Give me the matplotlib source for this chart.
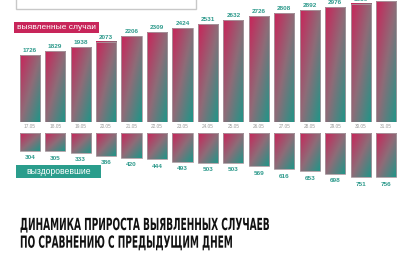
import numpy as np
import matplotlib
matplotlib.use("Agg")
import matplotlib.pyplot as plt
from matplotlib.patches import Rectangle
from matplotlib.colors import LinearSegmentedColormap
from matplotlib.patheffects import AbstractPathEffect
from matplotlib.transforms import Affine2D

# ---- data ----
dates = ["17.05", "18.05", "19.05", "20.05", "21.05", "22.05", "23.05", "24.05",
         "25.05", "26.05", "27.05", "28.05", "29.05", "30.05", "31.05"]
detected = [1726, 1829, 1938, 2073, 2206, 2309, 2424, 2531, 2632, 2726, 2808,
            2892, 2976, 3059, 3130]
recovered = [304, 305, 333, 386, 420, 444, 493, 503, 503, 569, 616, 653, 698,
             751, 756]
label_detected = "выявленные случаи"
label_recovered = "выздоровевшие"
title_lines = ["ДИНАМИКА ПРИРОСТА ВЫЯВЛЕННЫХ СЛУЧАЕВ",
               "ПО СРАВНЕНИЮ С ПРЕДЫДУЩИМ ДНЕМ"]

# ---- style ----
W, H = 414, 256
CRIMSON = "#C8255A"
TEAL = "#1E9688"
NUMCOL = "#2E9A8C"
cmap = LinearSegmentedColormap.from_list(
    "grad", [CRIMSON, "#8E6C78", TEAL])

fig = plt.figure(figsize=(W / 100, H / 100), dpi=100)
fig.patch.set_facecolor("white")


def fx(px):
    return px / W


def fy(py):
    return 1 - py / H


n = len(dates)
xl, xr = 16.97, 398.93
bw = 0.79

# gradient template (rows top->bottom, cols left->right)
rr, cc = np.mgrid[0:60, 0:20]
grad = 0.5 * cc / 19 + 0.5 * rr / 59

# upper axes
base_up = 121.7
scale_up = 0.03864  # px per case
ax1 = fig.add_axes([fx(xl), fy(base_up), fx(xr) - fx(xl), base_up / H])
ax1.set_axis_off()
for i, v in enumerate(detected):
    ax1.imshow(grad, cmap=cmap, vmin=0, vmax=1, origin="upper",
               extent=(i - bw / 2, i + bw / 2, 0, v), aspect="auto",
               interpolation="bilinear", zorder=2)
    ax1.add_patch(Rectangle((i - bw / 2, 0), bw, v, fill=False,
                            edgecolor="#a89aa0", lw=0.6, zorder=3))
    ax1.annotate(str(v), (i, v), xytext=(0, 3), textcoords="offset pixels",
                 ha="center", va="baseline", fontsize=4.6, fontweight="bold",
                 color=NUMCOL, family="Liberation Sans", annotation_clip=False)
    ax1.annotate(dates[i], (i, 0), xytext=(0, -6), textcoords="offset pixels",
                 ha="center", va="baseline", fontsize=3.4, color="#9a9a9a",
                 family="Liberation Sans", annotation_clip=False)
ax1.set_xlim(-0.5, n - 0.5)
ax1.set_ylim(0, base_up / scale_up)

# lower axes
top_lo = 133.3
scale_lo = 0.0582
ax2 = fig.add_axes([fx(xl), 0, fx(xr) - fx(xl), (H - top_lo) / H])
ax2.set_axis_off()
for i, v in enumerate(recovered):
    ax2.imshow(grad, cmap=cmap, vmin=0, vmax=1, origin="upper",
               extent=(i - bw / 2, i + bw / 2, v, 0), aspect="auto",
               interpolation="bilinear", zorder=2)
    ax2.add_patch(Rectangle((i - bw / 2, 0), bw, v, fill=False,
                            edgecolor="#a89aa0", lw=0.6, zorder=3))
    ax2.annotate(str(v), (i, v), xytext=(0, -8.5), textcoords="offset pixels",
                 ha="center", va="baseline", fontsize=4.6, fontweight="bold",
                 color=NUMCOL, family="Liberation Sans", annotation_clip=False)
ax2.set_xlim(-0.5, n - 0.5)
ax2.set_ylim((H - top_lo) / scale_lo, 0)

# top white box
fig.patches.append(Rectangle((fx(16), fy(9)), fx(196) - fx(16), 0.2,
                             transform=fig.transFigure, facecolor="white",
                             edgecolor="#c8c8c8", lw=1.0, zorder=5))

# legend boxes
fig.patches.append(Rectangle((fx(14), fy(32.5)), fx(99) - fx(14),
                             fy(22) - fy(32.5), transform=fig.transFigure,
                             facecolor=CRIMSON, edgecolor="none", zorder=5))
fig.text(fx(56.5), fy(27.5), label_detected, ha="center", va="center",
         fontsize=6.0, color="white", family="Liberation Sans", zorder=6)
fig.patches.append(Rectangle((fx(16), fy(178)), fx(101) - fx(16),
                             fy(164.5) - fy(178), transform=fig.transFigure,
                             facecolor="#2A9D8C", edgecolor="none", zorder=5))
fig.text(fx(58.5), fy(171.5), label_recovered, ha="center", va="center",
         fontsize=6.2, color="white", family="Liberation Sans", zorder=6)


# title with condensed glyph shapes (real text, reshaped when drawn)
class Reshape(AbstractPathEffect):
    def __init__(self, sx, sy):
        super().__init__()
        self.sx = sx
        self.sy = sy

    def draw_path(self, renderer, gc, tpath, affine, rgbFace=None):
        x0, y0 = affine.transform((0, 0))
        t = affine + Affine2D().translate(-x0, -y0).scale(self.sx, self.sy).translate(x0, y0)
        renderer.draw_path(gc, tpath, t, rgbFace)


base_fs = 9.5
t1 = fig.text(fx(20), fy(230), title_lines[0], ha="left", va="baseline",
              fontsize=base_fs, fontweight="bold", color="#111111",
              family="DejaVu Sans")
t2 = fig.text(fx(20), fy(247.7), title_lines[1], ha="left", va="baseline",
              fontsize=base_fs, fontweight="bold", color="#111111",
              family="DejaVu Sans")
fig.canvas.draw()
w1 = t1.get_window_extent().width
sx = 251.0 / w1
sy = 12.0 / base_fs
t1.set_path_effects([Reshape(sx, sy)])
t2.set_path_effects([Reshape(sx, sy)])

fig.savefig("out.png", dpi=100, facecolor="white")
